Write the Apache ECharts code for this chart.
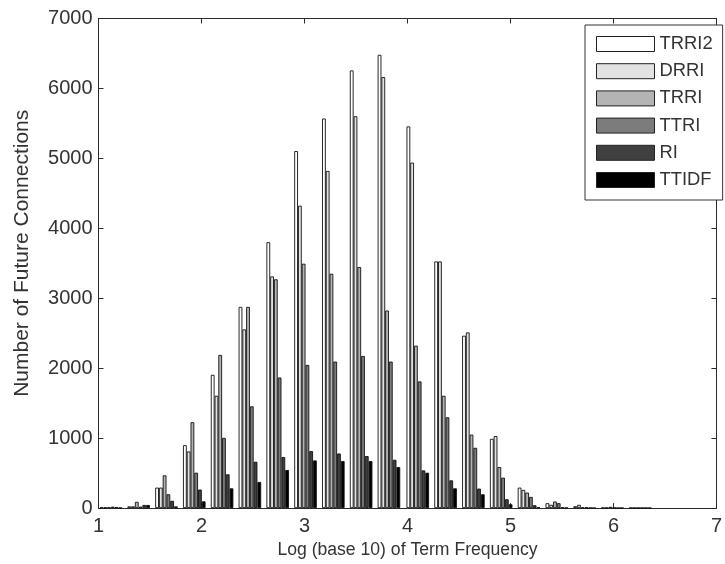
<!DOCTYPE html>
<html>
<head>
<meta charset="utf-8">
<script src="https://cdn.jsdelivr.net/npm/echarts@6/dist/echarts.min.js"></script>
<style>
html,body{margin:0;padding:0;background:#fff;}
#chart{width:725px;height:564px;}
</style>
</head>
<body>
<div id="chart"></div>
<script>
// bin centres (log10 of term frequency)
const binCenters = [1.12, 1.39, 1.66, 1.93, 2.20, 2.47, 2.74, 3.01, 3.28, 3.55,
                    3.82, 4.10, 4.37, 4.64, 4.91, 5.18, 5.45, 5.72, 5.99, 6.26];
const seriesNames = ['TRRI2', 'DRRI', 'TRRI', 'TTRI', 'RI', 'TTIDF'];
const TRRI2 = [10, 25, 293, 900, 1905, 2877, 3802, 5105, 5570, 6258, 6481, 5457, 3527, 2465, 990, 293, 70, 27, 5, 3];
const DRRI  = [10, 25, 293, 810, 1606, 2555, 3313, 4323, 4821, 5603, 6163, 4940, 3527, 2512, 1030, 260, 47, 47, 5, 3];
const TRRI  = [10, 90, 468, 1228, 2190, 2877, 3271, 3494, 3351, 3447, 2825, 2323, 1606, 1051, 587, 222, 94, 10, 18, 3];
const TTRI  = [20, 20, 198, 506, 1004, 1455, 1867, 2047, 2095, 2175, 2095, 1811, 1298, 862, 435, 160, 70, 10, 5, 3];
const RI    = [15, 45, 104, 265, 483, 663, 730, 815, 781, 744, 691, 539, 397, 279, 127, 41, 10, 3, 2, 2];
const TTIDF = [5, 45, 25, 97, 283, 374, 545, 682, 673, 673, 587, 506, 283, 198, 55, 10, 5, 2, 2, 2];
const xTicks = [1, 2, 3, 4, 5, 6, 7];
const yTicks = [0, 1000, 2000, 3000, 4000, 5000, 6000, 7000];

const values = [TRRI2, DRRI, TRRI, TTRI, RI, TTIDF];
const colors = ['#ffffff', '#e2e2e2', '#b4b4b4', '#7c7c7c', '#404040', '#000000'];
const FONT = '"Liberation Sans", Arial, sans-serif';
const AX = '#2b2b2b';
const TXT = '#333';

const chart = echarts.init(document.getElementById('chart'), null, {renderer: 'canvas'});

const series = seriesNames.map((name, i) => ({
  name: name,
  type: 'bar',
  xAxisIndex: 0,
  yAxisIndex: 0,
  barWidth: 3.76,
  barGap: '0%',
  data: binCenters.map((x, j) => [x, values[i][j]]),
  itemStyle: {color: colors[i], borderColor: '#111', borderWidth: 0.9},
  emphasis: {disabled: true}
}));

const grid = {left: 98.5, right: 1, top: 18.5, bottom: 53.4, containLabel: false};
const plain = v => String(v);

chart.setOption({
  animation: false,
  backgroundColor: '#ffffff',
  grid: grid,
  legend: {
    data: seriesNames,
    orient: 'vertical',
    left: 585,
    top: 25,
    padding: [10, 10, 11, 11],
    itemWidth: 58,
    itemHeight: 15,
    itemGap: 9.2,
    itemStyle: {borderColor: '#222', borderWidth: 1},
    backgroundColor: '#ffffff',
    borderColor: '#333',
    borderWidth: 1,
    textStyle: {fontFamily: FONT, fontSize: 18.4, color: TXT, lineHeight: 15, padding: [0, 0, 0, 0]},
    itemTextGap: 6,
    icon: 'rect',
    selectedMode: false
  },
  xAxis: [{
    type: 'value', min: xTicks[0], max: xTicks[xTicks.length - 1], interval: 1,
    position: 'bottom',
    name: 'Log (base 10) of Term Frequency',
    nameLocation: 'middle', nameGap: 32,
    nameTextStyle: {fontFamily: FONT, fontSize: 17.6, color: TXT},
    axisLine: {onZero: false, lineStyle: {color: AX, width: 1}},
    axisTick: {inside: true, length: 5, lineStyle: {color: AX}},
    axisLabel: {fontFamily: FONT, fontSize: 20, color: TXT, margin: 8, formatter: plain},
    splitLine: {show: false}
  }, {
    type: 'value', min: xTicks[0], max: xTicks[xTicks.length - 1], interval: 1,
    position: 'top',
    axisLine: {onZero: false, lineStyle: {color: AX, width: 1}},
    axisTick: {inside: true, length: 5, lineStyle: {color: AX}},
    axisLabel: {show: false},
    splitLine: {show: false}
  }],
  yAxis: [{
    type: 'value', min: yTicks[0], max: yTicks[yTicks.length - 1], interval: 1000,
    position: 'left',
    name: 'Number of Future Connections',
    nameLocation: 'middle', nameGap: 66,
    nameTextStyle: {fontFamily: FONT, fontSize: 21, color: TXT, padding: [0, 0, 0, 20]},
    axisLine: {show: true, onZero: false, lineStyle: {color: AX, width: 1}},
    axisTick: {show: true, inside: true, length: 5, lineStyle: {color: AX}},
    axisLabel: {fontFamily: FONT, fontSize: 20, color: TXT, margin: 6, formatter: plain},
    splitLine: {show: false}
  }, {
    type: 'value', min: yTicks[0], max: yTicks[yTicks.length - 1], interval: 1000,
    position: 'right',
    axisLine: {show: true, onZero: false, lineStyle: {color: AX, width: 1}},
    axisTick: {show: true, inside: true, length: 5, lineStyle: {color: AX}},
    axisLabel: {show: false},
    splitLine: {show: false}
  }],
  series: series
});
</script>
</body>
</html>
